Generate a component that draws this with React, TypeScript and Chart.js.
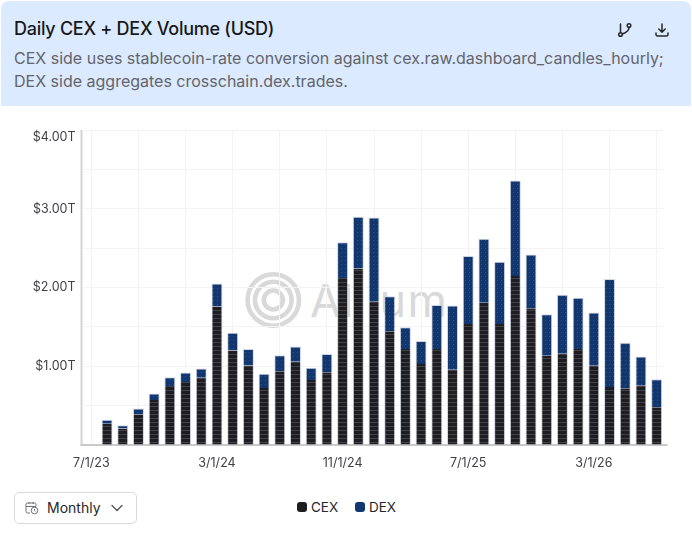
import { useRef, useEffect } from "react"
import { Chart, registerables, type Plugin } from "chart.js"

Chart.register(...registerables)

const months = [
  "7/1/23", "8/1/23", "9/1/23", "10/1/23", "11/1/23", "12/1/23",
  "1/1/24", "2/1/24", "3/1/24", "4/1/24", "5/1/24", "6/1/24", "7/1/24", "8/1/24", "9/1/24", "10/1/24", "11/1/24", "12/1/24",
  "1/1/25", "2/1/25", "3/1/25", "4/1/25", "5/1/25", "6/1/25", "7/1/25", "8/1/25", "9/1/25", "10/1/25", "11/1/25", "12/1/25",
  "1/1/26", "2/1/26", "3/1/26", "4/1/26", "5/1/26", "6/1/26", "7/1/26",
]

// trillions of USD
const cexValues = [
  0.005, 0.27, 0.21, 0.39, 0.57, 0.75, 0.8, 0.855, 1.76, 1.2, 1.01, 0.725, 0.935, 1.057, 0.825, 0.925, 2.12, 2.24, 1.82,
  1.445, 1.22, 1.03, 1.22, 0.955, 1.535, 1.806, 1.535, 2.145, 1.735, 1.133, 1.16, 1.22, 1.006, 0.736, 0.72, 0.753, 0.478,
]
const dexValues = [
  0.005, 0.05, 0.04, 0.075, 0.085, 0.11, 0.12, 0.115, 0.29, 0.225, 0.21, 0.18, 0.205, 0.193, 0.155, 0.23, 0.456, 0.66, 1.07,
  0.445, 0.275, 0.29, 0.557, 0.815, 0.865, 0.814, 0.791, 1.215, 0.685, 0.527, 0.747, 0.65, 0.677, 1.371, 0.58, 0.372, 0.356,
]

const CEX_COLOR = "#1d1d22"
const DEX_COLOR = "#12376f"
const FONT = "Inter, sans-serif"

function linesPattern(ctx: CanvasRenderingContext2D) {
  const tile = document.createElement("canvas")
  tile.width = 4
  tile.height = 4
  const t = tile.getContext("2d")!
  t.fillStyle = CEX_COLOR
  t.fillRect(0, 0, 4, 4)
  t.fillStyle = "#424248"
  t.fillRect(0, 3, 4, 1)
  return ctx.createPattern(tile, "repeat")!
}

function dotsPattern(ctx: CanvasRenderingContext2D) {
  const tile = document.createElement("canvas")
  tile.width = 4
  tile.height = 4
  const t = tile.getContext("2d")!
  t.fillStyle = DEX_COLOR
  t.fillRect(0, 0, 4, 4)
  t.fillStyle = "#2a5290"
  t.fillRect(1, 1, 1, 1)
  return ctx.createPattern(tile, "repeat")!
}

// axis lines run a little past the plot area on both ends of the x axis
const axisLines: Plugin<"bar"> = {
  id: "axisLines",
  beforeDatasetsDraw(chart) {
    const { ctx, chartArea } = chart
    const { left, right, top, bottom } = chartArea
    ctx.save()
    ctx.lineWidth = 2
    ctx.strokeStyle = "#d4d4d6"
    ctx.beginPath()
    ctx.moveTo(left - 2, top)
    ctx.lineTo(left - 2, bottom)
    ctx.stroke()
    ctx.strokeStyle = "#c9c9cc"
    ctx.beginPath()
    ctx.moveTo(left - 3, bottom)
    ctx.lineTo(right + 3, bottom)
    ctx.stroke()
    ctx.restore()
  },
}

function yTickLabel(v: number) {
  if (v <= 0 || v % 1 !== 0) return ""
  const text = `$${v.toFixed(2)}T`
  // top label sits just under its gridline, blank first line pushes it down
  return v === 4 ? ["", text] : text
}

function VolumeChart() {
  const canvasRef = useRef<HTMLCanvasElement>(null)

  useEffect(() => {
    if (!canvasRef.current) return
    const ctx = canvasRef.current.getContext("2d")!

    const chart = new Chart(canvasRef.current, {
      type: "bar",
      data: {
        labels: months,
        datasets: [
          {
            label: "CEX",
            data: cexValues,
            backgroundColor: linesPattern(ctx),
            borderColor: "rgba(190,202,222,0.75)",
            borderWidth: { left: 1, right: 1, top: 0, bottom: 0 },
            borderSkipped: false,
            barPercentage: 0.7,
            categoryPercentage: 1,
          },
          {
            label: "DEX",
            data: dexValues,
            backgroundColor: dotsPattern(ctx),
            borderColor: "rgba(190,202,222,0.75)",
            borderWidth: { left: 1, right: 1, top: 1, bottom: 0 },
            borderSkipped: false,
            barPercentage: 0.7,
            categoryPercentage: 1,
          },
        ],
      },
      options: {
        responsive: false,
        animation: false,
        layout: { padding: { top: 8, right: 27.5, left: 0, bottom: 0 } },
        scales: {
          x: {
            stacked: true,
            afterFit: (scale) => {
              scale.height = 40
            },
            grid: {
              offset: false,
              drawTicks: false,
              color: (c) => (c.index % 3 === 0 ? "#f3f3f4" : "transparent"),
            },
            border: { display: false },
            ticks: {
              autoSkip: false,
              maxRotation: 0,
              padding: 11,
              color: "#3f3f46",
              font: { family: FONT, size: 12.5 },
              callback: (_v, i) => (i % 8 === 0 ? months[i] : ""),
            },
          },
          y: {
            stacked: true,
            min: 0,
            max: 4,
            grid: { drawTicks: false, color: "#f3f3f4" },
            border: { display: false },
            afterFit: (scale) => {
              scale.width = 83.5
            },
            ticks: {
              stepSize: 0.5,
              padding: 8,
              color: "#3f3f46",
              font: { family: FONT, size: 12.5 },
              callback: (v) => yTickLabel(Number(v)),
            },
          },
        },
        plugins: {
          tooltip: { enabled: false },
          legend: { display: false },
        },
      },
      plugins: [axisLines],
    })

    return () => chart.destroy()
  }, [])

  return <canvas ref={canvasRef} width={692} height={378} style={{ position: "absolute", left: 0, top: 107, width: 692, height: 378 }} />
}

function Watermark() {
  return (
    <svg width={692} height={120} style={{ position: "absolute", left: 0, top: 240 }}>
      <g fill="none" stroke="#d9d9d9" strokeWidth={4.6}>
        <circle cx={273.3} cy={60} r={25.7} />
        <circle cx={273.3} cy={60} r={18.3} />
        <circle cx={273.3} cy={60} r={9.5} />
      </g>
      <text x={310} y={77} fill="#d9d9d9" fontFamily={FONT} fontSize={45} fontWeight={400} textLength={137}>
        Allium
      </text>
    </svg>
  )
}

function LegendItem({ color, label, left }: { color: string; label: string; left: number }) {
  return (
    <>
      <div style={{ position: "absolute", left, top: 502, width: 10, height: 10, borderRadius: 3, background: color }} />
      <div style={{ position: "absolute", left: left + 14, top: 499, fontSize: 13.5, lineHeight: "17px", color: "#27272a" }}>{label}</div>
    </>
  )
}

export default function App() {
  useEffect(() => {
    document.body.style.margin = "0"
  }, [])

  return (
    <div style={{ position: "relative", width: 692, height: 540, background: "#fff", fontFamily: FONT, overflow: "hidden" }}>
      <div
        style={{
          position: "absolute",
          left: 1,
          top: 1,
          width: 690,
          height: 105,
          background: "#dbeafe",
          borderRadius: "8px 8px 0 0",
        }}
      >
        <div style={{ position: "absolute", left: 13, top: 17, fontSize: 18, fontWeight: 500, color: "#18181b", letterSpacing: -0.27, whiteSpace: "nowrap" }}>
          Daily CEX + DEX Volume (USD)
        </div>
        <div style={{ position: "absolute", left: 13, top: 46, width: 670, fontSize: 16, lineHeight: "23px", color: "#64646c", whiteSpace: "nowrap" }}>
          CEX side uses stablecoin-rate conversion against cex.raw.dashboard_candles_hourly;
          <br />
          DEX side aggregates crosschain.dex.trades.
        </div>
        <svg width={16} height={16} viewBox="0 0 16 16" fill="none" stroke="#27272a" strokeWidth={1.5} strokeLinecap="round" style={{ position: "absolute", left: 616, top: 21 }}>
          <circle cx={3.5} cy={12.5} r={1.8} />
          <circle cx={12} cy={3.5} r={1.8} />
          <path d="M3.5 10.5V2M12 5.5c0 3-4 5.5-6.6 6.5" />
        </svg>
        <svg width={16} height={16} viewBox="0 0 16 16" fill="none" stroke="#27272a" strokeWidth={1.5} strokeLinecap="round" strokeLinejoin="round" style={{ position: "absolute", left: 653, top: 21 }}>
          <path d="M8 2v8M4.8 7L8 10.2 11.2 7M2 11v1.5a1.5 1.5 0 0 0 1.5 1.5h9a1.5 1.5 0 0 0 1.5-1.5V11" />
        </svg>
      </div>

      <Watermark />
      <VolumeChart />

      <div
        style={{
          position: "absolute",
          left: 14,
          top: 492,
          width: 121,
          height: 30,
          border: "1px solid #d9d9dd",
          borderRadius: 5,
          background: "#fff",
        }}
      >
        <svg width={14} height={14} viewBox="0 0 14 14" fill="none" stroke="#71717a" strokeWidth={1} style={{ position: "absolute", left: 10, top: 8 }}>
          <path d="M5 12H2.5A1.5 1.5 0 0 1 1 10.5V3.5A1.5 1.5 0 0 1 2.5 2h7A1.5 1.5 0 0 1 11 3.5V5M1 5.5h10M4 1v2M8 1v2" />
          <circle cx={9.5} cy={9.5} r={3.3} />
          <path d="M9.5 8v1.6l1 .7" />
        </svg>
        <div style={{ position: "absolute", left: 32, top: 6, fontSize: 14, color: "#27272a" }}>Monthly</div>
        <svg width={12} height={8} viewBox="0 0 12 8" fill="none" stroke="#52525b" strokeWidth={1.3} strokeLinecap="round" strokeLinejoin="round" style={{ position: "absolute", left: 96, top: 11 }}>
          <path d="M1 1.5l5 5 5-5" />
        </svg>
      </div>

      <LegendItem color={CEX_COLOR} label="CEX" left={297} />
      <LegendItem color={DEX_COLOR} label="DEX" left={355} />
    </div>
  )
}
